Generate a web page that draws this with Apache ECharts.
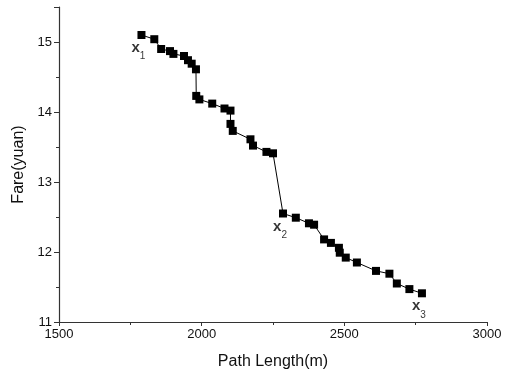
<!DOCTYPE html>
<html>
<head>
<meta charset="utf-8">
<script src="https://cdn.jsdelivr.net/npm/echarts@6/dist/echarts.min.js"></script>
<style>html,body{margin:0;padding:0;background:#fff}#c{width:511px;height:376px}</style>
</head>
<body>
<div id="c"></div>
<script>
var pathLength = [1789,1834,1858,1889,1901,1938,1952,1965,1980,1981,1992,2037,2080,2101,2101,2109,2171,2180,2227,2250,2285,2330,2376,2394,2429,2453,2481,2484,2505,2544,2611,2658,2684,2728,2772];
var fare = [15.10,15.04,14.90,14.87,14.83,14.80,14.74,14.69,14.61,14.23,14.18,14.12,14.05,14.02,13.83,13.73,13.61,13.52,13.43,13.41,12.55,12.49,12.41,12.39,12.18,12.13,12.06,11.99,11.92,11.85,11.73,11.69,11.55,11.47,11.41];
var pointNames = ['1','2','3'];
var labelIdx = [0, 20, 34];

var data = pathLength.map(function(x, i){ return [x, fare[i]]; });
var labelData = labelIdx.map(function(idx, k){ return {value: data[idx], name: pointNames[k]}; });

var chart = echarts.init(document.getElementById('c'), null, {renderer:'canvas'});
var font = 'Liberation Sans, Arial, sans-serif';
chart.setOption({
  animation: false,
  grid: {left: 59, right: 24, top: 7, bottom: 54},
  xAxis: {
    type: 'value', min: 1500, max: 3000, interval: 500,
    name: 'Path Length(m)', nameLocation: 'middle', nameGap: 32,
    nameTextStyle: {fontFamily: font, fontSize: 16, color: '#111'},
    axisLine: {show: true, lineStyle: {color: '#333', width: 1.2}},
    axisTick: {show: true, length: 4, lineStyle: {color: '#333'}},
    minorTick: {show: true, splitNumber: 2, length: 3, lineStyle: {color: '#333'}},
    splitLine: {show: false},
    axisLabel: {fontFamily: font, fontSize: 13, color: '#111', margin: 6,
      formatter: function(v){ return String(v); }}
  },
  yAxis: {
    type: 'value', min: 11, max: 15.5, interval: 1,
    name: 'Fare(yuan)', nameLocation: 'middle', nameGap: 32,
    nameTextStyle: {fontFamily: font, fontSize: 16, color: '#111'},
    axisLine: {show: true, lineStyle: {color: '#333', width: 1.2}},
    axisTick: {show: true, length: 5, lineStyle: {color: '#333'}},
    minorTick: {show: true, splitNumber: 2, length: 3, lineStyle: {color: '#333'}},
    splitLine: {show: false},
    axisLabel: {fontFamily: font, fontSize: 13, color: '#111', margin: 7,
      formatter: function(v){ return (v % 1 === 0) ? String(v) : ''; }}
  },
  series: [{
    type: 'line', data: data,
    symbol: 'rect', symbolSize: 8,
    itemStyle: {color: '#000'},
    lineStyle: {color: '#000', width: 1}
  }, {
    type: 'scatter', data: labelData, symbolSize: 0, silent: true,
    label: {
      show: true, position: 'inside', offset: [-3, 13],
      formatter: function(p){ return '{x|x}{s|' + p.name + '}'; },
      rich: {
        x: {fontFamily: font, fontSize: 15, fontWeight: 'bold', color: '#000', verticalAlign: 'bottom'},
        s: {fontFamily: font, fontSize: 10, color: '#000', verticalAlign: 'bottom', padding: [0,0,-6,0]}
      }
    }
  }]
});
</script>
</body>
</html>
